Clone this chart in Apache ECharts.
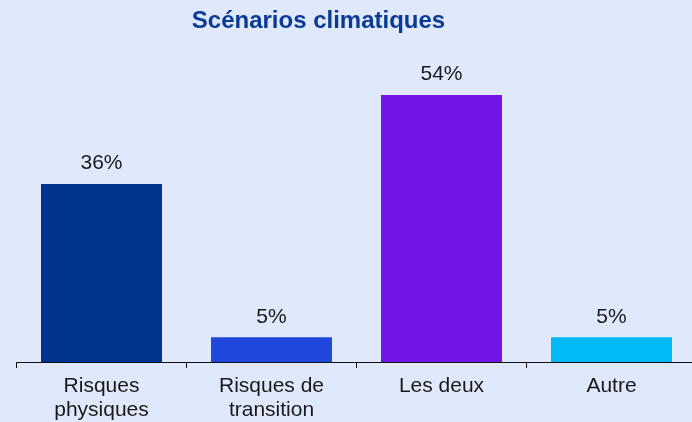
<!DOCTYPE html>
<html>
<head>
<meta charset="utf-8">
<script src="https://cdn.jsdelivr.net/npm/echarts@6/dist/echarts.min.js"></script>
<style>
  html, body { margin: 0; padding: 0; background: #dfe9fb; }
  #chart { width: 692px; height: 422px; }
</style>
</head>
<body>
<div id="chart"></div>
<script>
// données du graphique
const categories = ['Risques\nphysiques', 'Risques de\ntransition', 'Les deux', 'Autre'];
const values = [36, 5, 54, 5];
const barColors = ['#00338d', '#2049dc', '#7214e8', '#00b9f5'];

const myChart = echarts.init(document.getElementById('chart'));
const option = {
  backgroundColor: '#dfe9fb',
  title: {
    text: 'Scénarios climatiques',
    left: 313.5,
    textAlign: 'center',
    top: 4,
    textStyle: {
      fontFamily: 'Liberation Sans',
      fontSize: 24,
      fontWeight: 'bold',
      color: '#0a3a94'
    }
  },
  grid: {
    left: 16.5,
    top: 95,
    width: 680,
    bottom: 60,
    outerBoundsMode: 'none'
  },
  xAxis: {
    type: 'category',
    data: categories,
    axisLine: { lineStyle: { color: '#111', width: 1 } },
    axisTick: { show: true, length: 6, lineStyle: { color: '#111' } },
    axisLabel: {
      fontFamily: 'Liberation Sans',
      fontSize: 21,
      color: '#1a1a1a',
      lineHeight: 24,
      margin: 12,
      interval: 0
    }
  },
  yAxis: {
    type: 'value',
    min: 0,
    max: 'dataMax',
    show: false,
    splitLine: { show: false }
  },
  series: [
    {
      type: 'bar',
      barWidth: 121,
      data: values.map((v, i) => ({ value: v, itemStyle: { color: barColors[i] } })),
      label: {
        show: true,
        position: 'top',
        distance: 10,
        formatter: '{c}%',
        fontFamily: 'Liberation Sans',
        fontSize: 21,
        color: '#1a1a1a'
      }
    }
  ]
};
myChart.setOption(option);
</script>
</body>
</html>
